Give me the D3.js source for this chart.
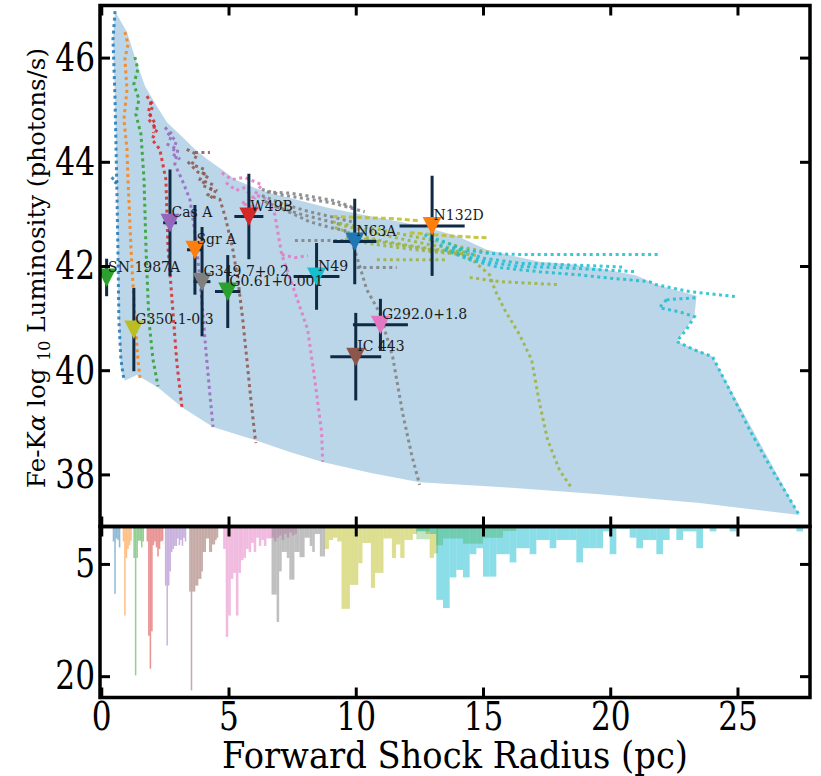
<!DOCTYPE html>
<html><head><meta charset="utf-8">
<script src="https://cdn.jsdelivr.net/npm/d3@7"></script>
<style>body{margin:0;background:#fff}svg text{font-family:"DejaVu Serif",serif}</style>
</head><body><svg id="c" width="821" height="776"></svg>
<script>
// ---------- data ----------
const xTicks=[0,5,10,15,20,25];
const yTicks=[38,40,42,44,46];
const hTicks=[5,20];

const envelope=[[0.54,46.89],[1.01,46.49],[1.32,46.01],[1.72,45.45],[2.19,45.06],[2.58,44.76],[3.29,44.43],[3.68,44.24],[4.19,44.04],[4.74,43.85],[5.25,43.66],[5.92,43.52],[6.54,43.41],[7.61,43.28],[8.90,43.12],[10.43,42.97],[11.73,42.85],[12.63,42.76],[13.96,42.58],[15.15,42.31],[17.22,42.08],[18.52,42.03],[19.85,41.93],[21.03,41.82],[21.82,41.64],[23.39,41.43],[23.31,41.03],[22.61,40.55],[24.02,40.26],[27.43,37.22],[23.51,37.45],[19.58,37.62],[15.65,37.76],[12.51,37.85],[10.55,38.03],[8.70,38.24],[7.41,38.43],[6.03,38.66],[4.39,38.91],[3.17,39.29],[2.23,39.67],[1.40,39.91],[0.93,39.80],[0.77,40.01],[0.66,41.35],[0.62,43.28],[0.54,45.20],[0.46,46.35]];

const trackBlue=[[[0.54,46.89],[0.46,46.35],[0.50,45.78],[0.54,45.20],[0.58,44.24],[0.62,43.28],[0.66,42.12],[0.69,40.97],[0.77,40.21],[0.89,39.82]],[[0.40,43.70],[0.60,43.62],[0.45,43.52]]];
const trackOrange=[[[0.93,46.49],[1.05,46.26],[0.93,45.97],[1.01,45.39],[0.89,44.81],[1.01,44.24],[1.05,43.66],[1.17,42.31],[1.28,41.35],[1.44,40.20],[1.52,39.85]]];
const trackGreen=[[[1.32,46.01],[1.44,45.78],[1.28,45.49],[1.48,45.20],[1.36,44.91],[1.56,44.53],[1.68,43.66],[1.76,42.31],[1.87,40.97],[2.03,40.21],[2.23,39.69]]];
const trackRed=[[[1.79,45.26],[2.03,45.10],[1.87,44.81],[2.19,44.62],[1.99,44.43],[2.30,44.24],[2.54,43.66],[2.62,42.37],[2.82,41.10],[2.97,40.14],[3.17,39.29]],[[1.95,45.15],[1.85,44.95],[2.10,44.75],[2.05,44.55]]];
const trackPurple=[[[2.50,44.66],[2.78,44.53],[2.62,44.33],[3.01,44.24],[2.89,43.95],[3.17,43.66],[3.48,43.28],[3.72,42.51],[3.95,41.35],[4.11,40.39],[4.27,39.53],[4.39,38.91]],[[2.60,44.55],[2.95,44.40],[2.80,44.15],[3.10,44.05]]];
const trackBrown=[[[3.36,44.24],[3.76,44.14],[3.56,43.95],[4.07,43.85],[3.88,43.66],[4.39,43.56],[4.19,43.37],[4.66,43.28],[4.90,42.89],[5.17,42.31],[5.37,41.74],[5.56,40.97],[5.72,40.21],[5.88,39.43],[6.07,38.60]],[[3.68,44.18],[4.27,44.18]],[[3.40,44.00],[3.80,43.80],[4.20,43.75],[3.95,43.55],[4.50,43.45],[4.30,43.30]]];
const trackPink=[[[4.74,43.79],[5.13,43.66],[5.64,43.70],[6.31,43.56],[6.03,43.37],[6.54,43.28],[6.82,42.99],[7.09,42.22],[7.61,41.49],[8.11,40.78],[8.39,39.82],[8.66,38.80],[8.70,38.24]],[[7.09,42.22],[7.61,42.16],[8.12,42.20]],[[4.90,43.60],[5.30,43.45],[5.60,43.50],[6.00,43.30],[5.50,43.20],[6.30,43.10]]];
const trackGrey=[[[6.31,43.47],[7.02,43.37],[7.80,43.31],[8.98,43.22],[9.76,43.12],[10.35,43.04]],[[6.31,43.35],[7.21,43.18],[8.19,43.04],[9.18,42.93],[9.84,42.85]],[[6.42,43.24],[7.41,43.03],[8.19,42.85],[8.98,42.74],[9.57,42.68],[9.96,42.31],[10.16,41.99],[10.43,41.55],[10.94,41.10],[11.45,40.26],[11.84,39.18],[12.20,38.37],[12.51,37.80]],[[7.61,42.49],[8.58,42.49],[9.57,42.49],[10.79,42.49]],[[10.04,41.97],[10.94,41.97],[11.61,41.97]],[[6.50,43.42],[7.40,43.40],[8.30,43.33],[9.20,43.25],[9.90,43.12]],[[6.80,43.15],[7.80,43.00],[8.60,42.90],[9.40,42.80]]];
const trackOliveBright=[[[9.10,42.95],[10.16,42.93],[11.46,42.91],[12.51,42.87]],[[12.12,42.64],[13.57,42.58],[15.15,42.54]]];
const trackOlive=[[[9.10,42.85],[9.76,42.78],[10.94,42.70],[12.12,42.58],[13.30,42.47],[14.08,42.37],[15.26,42.26]],[[9.18,42.74],[9.96,42.60],[10.94,42.49],[12.12,42.39],[13.30,42.31],[14.48,42.26]],[[9.57,42.51],[10.55,42.43],[11.73,42.35],[12.91,42.28],[14.08,42.22]],[[10.83,42.12],[12.12,42.12],[13.57,42.12]],[[13.96,42.28],[14.67,42.08],[15.26,41.83],[15.46,41.55],[15.85,41.16],[16.44,40.68],[16.91,40.20],[17.22,39.37],[17.54,38.66],[18.01,38.08],[18.48,37.74]],[[14.48,41.78],[15.65,41.70],[16.44,41.68],[18.01,41.64]],[[9.30,42.80],[10.50,42.66],[11.80,42.52],[13.00,42.40],[14.30,42.30]],[[9.80,42.55],[11.00,42.46],[12.30,42.36],[13.60,42.27],[14.80,42.20]]];
const trackCyan=[[[12.91,42.56],[13.57,42.45],[14.28,42.31],[15.26,42.24],[16.44,42.22],[18.01,42.22],[19.58,42.22],[20.76,42.22],[21.93,42.22]],[[13.30,42.41],[14.08,42.22],[15.15,42.08],[16.44,41.99],[18.01,41.97],[19.58,41.93],[21.03,41.89]],[[13.49,42.31],[14.48,42.12],[15.65,41.97],[17.22,41.89],[18.79,41.83],[19.70,41.78],[21.54,41.70],[21.82,41.64],[23.11,41.51],[24.96,41.41]],[[22.21,41.35],[22.72,41.37],[23.39,41.39]],[[22.21,41.35],[21.93,41.20],[22.72,41.12],[23.31,41.03],[23.00,40.78],[22.61,40.55],[23.31,40.39],[24.02,40.26],[24.68,39.63],[25.47,38.86],[26.25,38.18],[26.84,37.70],[27.43,37.22]],[[13.80,42.36],[15.00,42.15],[16.50,42.05],[18.00,42.03],[19.50,42.00],[20.50,41.98]],[[12.70,42.60],[13.10,42.50],[12.90,42.40]]];

const snrNames=["SN 1987A","Cas A","Sgr A","G349.7+0.2","G0.61+0.001","G350.1-0.3","W49B","N49","N63A","N132D","G292.0+1.8","IC 443"];
const snrX=[0.21,2.70,3.68,3.96,4.97,1.28,5.80,8.46,9.96,13.00,10.97,10.00];
const snrY=[41.78,42.83,42.31,41.70,41.51,40.78,42.95,41.80,42.47,42.77,40.87,40.26];
const snrXerr=[0.08,0.27,0.31,0.33,0.50,0.08,0.57,0.90,0.85,1.28,1.08,1.00];
const snrYerr=[0.36,1.02,0.86,1.05,0.70,0.80,0.82,0.64,0.82,0.96,0.50,0.84];
const snrColors=["#2ca02c","#9467bd","#ff7f0e","#7f7f7f","#2ca02c","#bcbd22","#d62728","#17becf","#1f77b4","#ff7f0e","#e377c2","#8c564b"];

const histBlue={start:0.45,width:0.06,counts:[2,9,1.6,1.8,2.8]};
const histOrange={start:0.84,width:0.06,counts:[2,11.9,4.2,3,2.5,1.9]};
const histGreen={start:1.26,width:0.06,counts:[4.2,19.9,4.2,1.9,1.9,2.8,2]};
const histRed={start:1.78,width:0.06,counts:[2,14.6,19,14,2.5,2,2.8,4,3,2,1.9]};
const histPurple={start:2.50,width:0.06,counts:[7.9,15.9,7.9,6,3.4,3,2.6,2.6,1.6,2.5,1.8,2.6,1.5,2]};
const histBrown={start:3.455,width:0.06,counts:[8.7,21.9,8.7,8.7,7.9,7.9,7,7,6,3.4,3.4,1.6,1.6,3.4,3.4,2.4,2.4,1.8,1.5]};
const histPink={start:4.79,width:0.1,counts:[3,14.75,11.9,7,6.2,11.9,6.2,4.5,4.2,3,3.4,2.2,3.4,1.5,2.6,1.8,2.6,1.6,1.6,1.5,2.0,1.5,1.2,1.8,1.0,1.5,0.8,1.2,1.0]};
const histGrey={start:6.69,width:0.1,counts:[9.1,9.1,12.75,6,3.4,3.4,4.2,7.1,7.1,3.4,3.4,4.1,4.1,1.5,1.5,2.6,3.4,1,1,4,4]};
const histOlive={start:8.78,width:0.165,counts:[3.0,1.8,1.5,2.0,11.0,11.0,7.8,7.8,4.9,2.2,2.2,8.2,6.2,6.2,1.6,1.6,4.2,2.4,4.2,1.8,1.8,1.0,0.5,0.5,1.0,4.2,3.6]};
const histCyan={start:12.38,width:0.262,counts:[0.65,0.65,1.0,9.8,10.9,6.8,5.8,6.8,3.7,2.9,6.7,6.7,3.7,3.7,4.8,2.9,2.9,3.7,1.8,1.8,2.9,1.8,1.8,1.8,4.8,2.9,2.9,2.9,0.65,3.7,0.3,0.3,1.5,2.9,1.8,1.8,3.7,1.8,0,1.8,0.65,0.65,2.9,0,0.65,0,0,0.65,0,0,0,0,0,0,0,0,0,0.65]};
const histGreen2={start:12.38,width:0.262,counts:[1.7,1.7,0,2.5,1.6,1.6,1.6,2.3,2.3,2.3,1.5,1.5,1.5,0.6,0.6]};

// ---------- drawing ----------
const svg=d3.select('#c');
const L=100,R=810,T=5.5,M=526.5,B=697.5;
const x=d3.scaleLinear().domain([-0.05,27.85]).range([L,R]);
const y=d3.scaleLinear().domain([37,47]).range([M,T]);
const h=d3.scaleLinear().domain([0,22.85]).range([M,B]);

const defs=svg.append('defs');
defs.append('clipPath').attr('id','ct').append('rect').attr('x',L).attr('y',T).attr('width',R-L).attr('height',M-T);
defs.append('clipPath').attr('id','cb').append('rect').attr('x',L).attr('y',M).attr('width',R-L).attr('height',B-M);

const gT=svg.append('g').attr('clip-path','url(#ct)');
const gB=svg.append('g').attr('clip-path','url(#cb)');

const line=d3.line().x(d=>x(d[0])).y(d=>y(d[1]));
gT.append('path').attr('d',line(envelope)+'Z').attr('fill','#1f77b4').attr('fill-opacity',0.3);

const trackSets=[[trackBlue,'#1f77b4'],[trackOrange,'#ff7f0e'],[trackGreen,'#2ca02c'],[trackRed,'#d62728'],[trackPurple,'#9467bd'],[trackBrown,'#8c564b'],[trackPink,'#e377c2'],[trackGrey,'#7f7f7f'],[trackOlive,'#9db23a'],[trackOliveBright,'#bcbd22'],[trackCyan,'#17becf']];
trackSets.forEach(([lines,col])=>{
  lines.forEach(pts=>{
    gT.append('path').attr('d',line(pts)).attr('fill','none').attr('stroke',col)
      .attr('stroke-width',3).attr('stroke-dasharray',col==='#bcbd22'?'5,3':'3,3.5').attr('opacity',0.85);
  });
});

// error bars
const ebc='#0f2a44';
snrNames.forEach((n,i)=>{
  gT.append('line').attr('x1',x(snrX[i]-snrXerr[i])).attr('x2',x(snrX[i]+snrXerr[i])).attr('y1',y(snrY[i])).attr('y2',y(snrY[i])).attr('stroke',ebc).attr('stroke-width',3);
  gT.append('line').attr('x1',x(snrX[i])).attr('x2',x(snrX[i])).attr('y1',y(snrY[i]-snrYerr[i])).attr('y2',y(snrY[i]+snrYerr[i])).attr('stroke',ebc).attr('stroke-width',3);
});
snrNames.forEach((n,i)=>{
  gT.append('path').attr('transform',`translate(${x(snrX[i])},${y(snrY[i])})`).attr('d','M-9.5,-9L9.5,-9L0,9.5Z').attr('fill',snrColors[i]);
});
snrNames.forEach((n,i)=>{
  gT.append('text').attr('x',x(snrX[i])+1.5).attr('y',y(snrY[i])-5.7).attr('font-size',14).attr('fill','#1a1a1a').text(n);
});

// histograms
const hists=[[histBlue,'#1f77b4',0.5],[histOrange,'#ff7f0e',0.5],[histGreen,'#2ca02c',0.5],[histRed,'#d62728',0.5],[histPurple,'#9467bd',0.5],[histBrown,'#8c564b',0.5],[histPink,'#e377c2',0.5],[histGrey,'#7f7f7f',0.5],[histOlive,'#bcbd22',0.5],[histCyan,'#17becf',0.5],[histGreen2,'#2ca02c',0.28]];
hists.forEach(([hs,col,op])=>{
  gB.selectAll(null).data(hs.counts.map((c,i)=>({x0:hs.start+i*hs.width,x1:hs.start+(i+1)*hs.width,c}))).enter()
    .append('rect').attr('x',d=>x(d.x0)).attr('width',d=>x(d.x1)-x(d.x0)).attr('y',h(0)).attr('height',d=>h(d.c)-h(0))
    .attr('fill',col).attr('fill-opacity',op);
});

// axes
const TS=10, FS=40, SX=0.78;
function styleAxis(g,labels){
  g.select('.domain').remove();
  g.selectAll('.tick line').attr('stroke','#000').attr('stroke-width',3);
  if(!labels) g.selectAll('.tick text').remove();
}
function ax(axis,tr,vals,labels){
  const g=svg.append('g').attr('transform',tr).call(axis.tickValues(vals).tickSizeInner(-TS).tickSizeOuter(0).tickPadding(labels?6:0).tickFormat(labels?d3.format('d'):()=>''));
  styleAxis(g,labels);
  return g;
}
const gl=ax(d3.axisLeft(y),`translate(${L},0)`,yTicks,true);
ax(d3.axisRight(y),`translate(${R},0)`,yTicks,false);
ax(d3.axisTop(x),`translate(0,${T})`,xTicks,false);
ax(d3.axisBottom(x),`translate(0,${M})`,xTicks,false);
const ghl=ax(d3.axisLeft(h),`translate(${L},0)`,hTicks,true);
ax(d3.axisRight(h),`translate(${R},0)`,hTicks,false);
ax(d3.axisTop(x),`translate(0,${M})`,xTicks,false);
const gxb=ax(d3.axisBottom(x),`translate(0,${B})`,xTicks,true);
[gl,ghl].forEach(g=>g.selectAll('.tick text').attr('font-family','DejaVu Serif').attr('font-size',FS).attr('fill','#000').attr('x',-5/SX).attr('transform',`scale(${SX},1)`));
gxb.selectAll('.tick text').attr('font-family','DejaVu Serif').attr('font-size',FS).attr('fill','#000').attr('y',4).attr('transform',`scale(${SX},1)`);

// frames
svg.append('rect').attr('x',L).attr('y',T).attr('width',R-L).attr('height',M-T).attr('fill','none').attr('stroke','#000').attr('stroke-width',3.5);
svg.append('rect').attr('x',L).attr('y',M).attr('width',R-L).attr('height',B-M).attr('fill','none').attr('stroke','#000').attr('stroke-width',3.5);

// axis titles
svg.append('text').attr('transform',`translate(${(L+R)/2},768) scale(0.9,1)`).attr('text-anchor','middle').attr('font-size',37.5).attr('fill','#000').text('Forward Shock Radius (pc)');
const yl=svg.append('text').attr('transform',`translate(45,268) rotate(-90)`).attr('text-anchor','middle').attr('font-size',24.5).attr('fill','#000');
yl.append('tspan').text('Fe-K');
yl.append('tspan').attr('font-style','italic').text('α');
yl.append('tspan').text(' log ');
yl.append('tspan').attr('font-size',16).attr('dy',5).text('10');
yl.append('tspan').attr('dy',-5).text(' Luminosity (photons/s)');
</script></body></html>
